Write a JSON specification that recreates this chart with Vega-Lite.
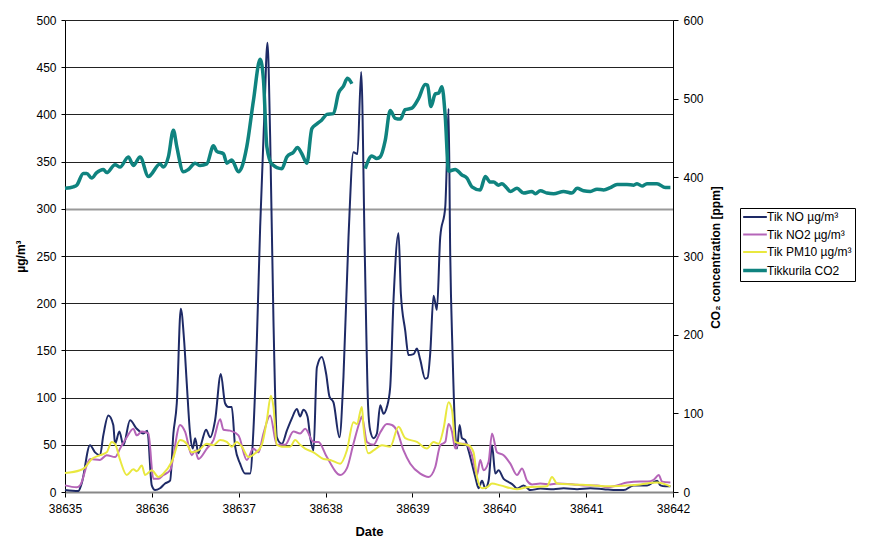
{
  "$schema": "https://vega.github.io/schema/vega-lite/v6.json",
  "width": 608,
  "height": 472,
  "autosize": {"type": "none"},
  "padding": {"left": 65, "top": 20, "right": 200, "bottom": 47},
  "background": "white",
  "config": {
    "font": "Liberation Sans",
    "view": {"stroke": null},
    "axis": {
      "labelFont": "Liberation Sans", "labelFontSize": 12, "labelColor": "#000",
      "titleFont": "Liberation Sans", "titleFontSize": 12, "titleFontWeight": "bold", "titleColor": "#000",
      "domainColor": "#000", "tickColor": "#000", "gridWidth": 1
    }
  },
  "datasets": {
    "pol": [
      {"d":38635.000,"s":"Tik NO µg/m³","v":2},{"d":38635.153,"s":"Tik NO µg/m³","v":1},{"d":38635.192,"s":"Tik NO µg/m³","v":9},{"d":38635.288,"s":"Tik NO µg/m³","v":49.5},{"d":38635.346,"s":"Tik NO µg/m³","v":42},{"d":38635.403,"s":"Tik NO µg/m³","v":39},{"d":38635.441,"s":"Tik NO µg/m³","v":60},{"d":38635.499,"s":"Tik NO µg/m³","v":81},{"d":38635.556,"s":"Tik NO µg/m³","v":71},{"d":38635.576,"s":"Tik NO µg/m³","v":51},{"d":38635.626,"s":"Tik NO µg/m³","v":64},{"d":38635.672,"s":"Tik NO µg/m³","v":49.5},{"d":38635.749,"s":"Tik NO µg/m³","v":76},{"d":38635.826,"s":"Tik NO µg/m³","v":67},{"d":38635.902,"s":"Tik NO µg/m³","v":62},{"d":38635.948,"s":"Tik NO µg/m³","v":65},{"d":38635.999,"s":"Tik NO µg/m³","v":7},{"d":38636.037,"s":"Tik NO µg/m³","v":2},{"d":38636.094,"s":"Tik NO µg/m³","v":4},{"d":38636.152,"s":"Tik NO µg/m³","v":9},{"d":38636.210,"s":"Tik NO µg/m³","v":12},{"d":38636.248,"s":"Tik NO µg/m³","v":62},{"d":38636.287,"s":"Tik NO µg/m³","v":94},{"d":38636.333,"s":"Tik NO µg/m³","v":194},{"d":38636.371,"s":"Tik NO µg/m³","v":161},{"d":38636.402,"s":"Tik NO µg/m³","v":115},{"d":38636.440,"s":"Tik NO µg/m³","v":62},{"d":38636.471,"s":"Tik NO µg/m³","v":46},{"d":38636.498,"s":"Tik NO µg/m³","v":57},{"d":38636.536,"s":"Tik NO µg/m³","v":41},{"d":38636.575,"s":"Tik NO µg/m³","v":53},{"d":38636.624,"s":"Tik NO µg/m³","v":66},{"d":38636.671,"s":"Tik NO µg/m³","v":58},{"d":38636.728,"s":"Tik NO µg/m³","v":76},{"d":38636.794,"s":"Tik NO µg/m³","v":125},{"d":38636.843,"s":"Tik NO µg/m³","v":94},{"d":38636.881,"s":"Tik NO µg/m³","v":90},{"d":38636.920,"s":"Tik NO µg/m³","v":90},{"d":38636.959,"s":"Tik NO µg/m³","v":48},{"d":38637.016,"s":"Tik NO µg/m³","v":30},{"d":38637.074,"s":"Tik NO µg/m³","v":19.5},{"d":38637.131,"s":"Tik NO µg/m³","v":19.5},{"d":38637.169,"s":"Tik NO µg/m³","v":65},{"d":38637.209,"s":"Tik NO µg/m³","v":161},{"d":38637.247,"s":"Tik NO µg/m³","v":281},{"d":38637.293,"s":"Tik NO µg/m³","v":394},{"d":38637.331,"s":"Tik NO µg/m³","v":476},{"d":38637.362,"s":"Tik NO µg/m³","v":376},{"d":38637.400,"s":"Tik NO µg/m³","v":182},{"d":38637.439,"s":"Tik NO µg/m³","v":58},{"d":38637.497,"s":"Tik NO µg/m³","v":51},{"d":38637.554,"s":"Tik NO µg/m³","v":65},{"d":38637.612,"s":"Tik NO µg/m³","v":78},{"d":38637.669,"s":"Tik NO µg/m³","v":88},{"d":38637.707,"s":"Tik NO µg/m³","v":80},{"d":38637.745,"s":"Tik NO µg/m³","v":87},{"d":38637.792,"s":"Tik NO µg/m³","v":80},{"d":38637.823,"s":"Tik NO µg/m³","v":58},{"d":38637.861,"s":"Tik NO µg/m³","v":44},{"d":38637.900,"s":"Tik NO µg/m³","v":132},{"d":38637.957,"s":"Tik NO µg/m³","v":143},{"d":38638.007,"s":"Tik NO µg/m³","v":125},{"d":38638.045,"s":"Tik NO µg/m³","v":101},{"d":38638.091,"s":"Tik NO µg/m³","v":95},{"d":38638.160,"s":"Tik NO µg/m³","v":58},{"d":38638.206,"s":"Tik NO µg/m³","v":122},{"d":38638.264,"s":"Tik NO µg/m³","v":270},{"d":38638.321,"s":"Tik NO µg/m³","v":360},{"d":38638.367,"s":"Tik NO µg/m³","v":358},{"d":38638.410,"s":"Tik NO µg/m³","v":445},{"d":38638.452,"s":"Tik NO µg/m³","v":250},{"d":38638.490,"s":"Tik NO µg/m³","v":90},{"d":38638.514,"s":"Tik NO µg/m³","v":65},{"d":38638.552,"s":"Tik NO µg/m³","v":57},{"d":38638.591,"s":"Tik NO µg/m³","v":62},{"d":38638.629,"s":"Tik NO µg/m³","v":92},{"d":38638.667,"s":"Tik NO µg/m³","v":83},{"d":38638.706,"s":"Tik NO µg/m³","v":90},{"d":38638.744,"s":"Tik NO µg/m³","v":111},{"d":38638.782,"s":"Tik NO µg/m³","v":203},{"d":38638.840,"s":"Tik NO µg/m³","v":274},{"d":38638.867,"s":"Tik NO µg/m³","v":210},{"d":38638.917,"s":"Tik NO µg/m³","v":171},{"d":38638.955,"s":"Tik NO µg/m³","v":145},{"d":38639.013,"s":"Tik NO µg/m³","v":146},{"d":38639.052,"s":"Tik NO µg/m³","v":152},{"d":38639.090,"s":"Tik NO µg/m³","v":140},{"d":38639.147,"s":"Tik NO µg/m³","v":120},{"d":38639.174,"s":"Tik NO µg/m³","v":121},{"d":38639.205,"s":"Tik NO µg/m³","v":147},{"d":38639.243,"s":"Tik NO µg/m³","v":208},{"d":38639.282,"s":"Tik NO µg/m³","v":193},{"d":38639.320,"s":"Tik NO µg/m³","v":270},{"d":38639.378,"s":"Tik NO µg/m³","v":302},{"d":38639.397,"s":"Tik NO µg/m³","v":352},{"d":38639.416,"s":"Tik NO µg/m³","v":406},{"d":38639.435,"s":"Tik NO µg/m³","v":253},{"d":38639.462,"s":"Tik NO µg/m³","v":147},{"d":38639.493,"s":"Tik NO µg/m³","v":62},{"d":38639.513,"s":"Tik NO µg/m³","v":46},{"d":38639.543,"s":"Tik NO µg/m³","v":71},{"d":38639.570,"s":"Tik NO µg/m³","v":57},{"d":38639.608,"s":"Tik NO µg/m³","v":55},{"d":38639.646,"s":"Tik NO µg/m³","v":44},{"d":38639.685,"s":"Tik NO µg/m³","v":30},{"d":38639.724,"s":"Tik NO µg/m³","v":16},{"d":38639.762,"s":"Tik NO µg/m³","v":4},{"d":38639.801,"s":"Tik NO µg/m³","v":12},{"d":38639.839,"s":"Tik NO µg/m³","v":4},{"d":38639.877,"s":"Tik NO µg/m³","v":12},{"d":38639.916,"s":"Tik NO µg/m³","v":49.5},{"d":38639.954,"s":"Tik NO µg/m³","v":19.5},{"d":38639.992,"s":"Tik NO µg/m³","v":23},{"d":38640.050,"s":"Tik NO µg/m³","v":14},{"d":38640.107,"s":"Tik NO µg/m³","v":10.6},{"d":38640.165,"s":"Tik NO µg/m³","v":7},{"d":38640.204,"s":"Tik NO µg/m³","v":3.6},{"d":38640.280,"s":"Tik NO µg/m³","v":7},{"d":38640.357,"s":"Tik NO µg/m³","v":2},{"d":38640.472,"s":"Tik NO µg/m³","v":3.6},{"d":38640.626,"s":"Tik NO µg/m³","v":3},{"d":38640.741,"s":"Tik NO µg/m³","v":4},{"d":38640.895,"s":"Tik NO µg/m³","v":3},{"d":38641.048,"s":"Tik NO µg/m³","v":4},{"d":38641.202,"s":"Tik NO µg/m³","v":3},{"d":38641.356,"s":"Tik NO µg/m³","v":2},{"d":38641.432,"s":"Tik NO µg/m³","v":2},{"d":38641.547,"s":"Tik NO µg/m³","v":7},{"d":38641.702,"s":"Tik NO µg/m³","v":7},{"d":38641.817,"s":"Tik NO µg/m³","v":12},{"d":38641.855,"s":"Tik NO µg/m³","v":7},{"d":38641.912,"s":"Tik NO µg/m³","v":6},{"d":38641.970,"s":"Tik NO µg/m³","v":6},
      {"d":38635.000,"s":"Tik NO2 µg/m³","v":7},{"d":38635.135,"s":"Tik NO2 µg/m³","v":5},{"d":38635.173,"s":"Tik NO2 µg/m³","v":7},{"d":38635.288,"s":"Tik NO2 µg/m³","v":35},{"d":38635.403,"s":"Tik NO2 µg/m³","v":34},{"d":38635.480,"s":"Tik NO2 µg/m³","v":39},{"d":38635.576,"s":"Tik NO2 µg/m³","v":37},{"d":38635.634,"s":"Tik NO2 µg/m³","v":46},{"d":38635.711,"s":"Tik NO2 µg/m³","v":58},{"d":38635.787,"s":"Tik NO2 µg/m³","v":67},{"d":38635.826,"s":"Tik NO2 µg/m³","v":60},{"d":38635.884,"s":"Tik NO2 µg/m³","v":64},{"d":38635.960,"s":"Tik NO2 µg/m³","v":62},{"d":38636.017,"s":"Tik NO2 µg/m³","v":14},{"d":38636.075,"s":"Tik NO2 µg/m³","v":14},{"d":38636.133,"s":"Tik NO2 µg/m³","v":18},{"d":38636.210,"s":"Tik NO2 µg/m³","v":23},{"d":38636.325,"s":"Tik NO2 µg/m³","v":71},{"d":38636.382,"s":"Tik NO2 µg/m³","v":64},{"d":38636.460,"s":"Tik NO2 µg/m³","v":39},{"d":38636.498,"s":"Tik NO2 µg/m³","v":44},{"d":38636.536,"s":"Tik NO2 µg/m³","v":35},{"d":38636.633,"s":"Tik NO2 µg/m³","v":46},{"d":38636.709,"s":"Tik NO2 µg/m³","v":55},{"d":38636.786,"s":"Tik NO2 µg/m³","v":77},{"d":38636.824,"s":"Tik NO2 µg/m³","v":66},{"d":38636.901,"s":"Tik NO2 µg/m³","v":65},{"d":38636.997,"s":"Tik NO2 µg/m³","v":60},{"d":38637.093,"s":"Tik NO2 µg/m³","v":34},{"d":38637.169,"s":"Tik NO2 µg/m³","v":46},{"d":38637.227,"s":"Tik NO2 µg/m³","v":42},{"d":38637.285,"s":"Tik NO2 µg/m³","v":62},{"d":38637.362,"s":"Tik NO2 µg/m³","v":81},{"d":38637.439,"s":"Tik NO2 µg/m³","v":50},{"d":38637.535,"s":"Tik NO2 µg/m³","v":50},{"d":38637.630,"s":"Tik NO2 µg/m³","v":64},{"d":38637.707,"s":"Tik NO2 µg/m³","v":62},{"d":38637.765,"s":"Tik NO2 µg/m³","v":67},{"d":38637.861,"s":"Tik NO2 µg/m³","v":53},{"d":38637.918,"s":"Tik NO2 µg/m³","v":53},{"d":38638.015,"s":"Tik NO2 µg/m³","v":37},{"d":38638.168,"s":"Tik NO2 µg/m³","v":18},{"d":38638.245,"s":"Tik NO2 µg/m³","v":25},{"d":38638.321,"s":"Tik NO2 µg/m³","v":51},{"d":38638.399,"s":"Tik NO2 µg/m³","v":76},{"d":38638.418,"s":"Tik NO2 µg/m³","v":80},{"d":38638.476,"s":"Tik NO2 µg/m³","v":53},{"d":38638.552,"s":"Tik NO2 µg/m³","v":50},{"d":38638.629,"s":"Tik NO2 µg/m³","v":63},{"d":38638.706,"s":"Tik NO2 µg/m³","v":72},{"d":38638.764,"s":"Tik NO2 µg/m³","v":71},{"d":38638.821,"s":"Tik NO2 µg/m³","v":65},{"d":38638.898,"s":"Tik NO2 µg/m³","v":44},{"d":38638.975,"s":"Tik NO2 µg/m³","v":30},{"d":38639.090,"s":"Tik NO2 µg/m³","v":19.5},{"d":38639.186,"s":"Tik NO2 µg/m³","v":16},{"d":38639.263,"s":"Tik NO2 µg/m³","v":26.5},{"d":38639.320,"s":"Tik NO2 µg/m³","v":49.5},{"d":38639.378,"s":"Tik NO2 µg/m³","v":53},{"d":38639.416,"s":"Tik NO2 µg/m³","v":72},{"d":38639.455,"s":"Tik NO2 µg/m³","v":64},{"d":38639.493,"s":"Tik NO2 µg/m³","v":46},{"d":38639.531,"s":"Tik NO2 µg/m³","v":51},{"d":38639.608,"s":"Tik NO2 µg/m³","v":51},{"d":38639.685,"s":"Tik NO2 µg/m³","v":39},{"d":38639.743,"s":"Tik NO2 µg/m³","v":18},{"d":38639.781,"s":"Tik NO2 µg/m³","v":34},{"d":38639.819,"s":"Tik NO2 µg/m³","v":23},{"d":38639.877,"s":"Tik NO2 µg/m³","v":32},{"d":38639.916,"s":"Tik NO2 µg/m³","v":62},{"d":38639.974,"s":"Tik NO2 µg/m³","v":42},{"d":38640.050,"s":"Tik NO2 µg/m³","v":39},{"d":38640.127,"s":"Tik NO2 µg/m³","v":30},{"d":38640.204,"s":"Tik NO2 µg/m³","v":18},{"d":38640.262,"s":"Tik NO2 µg/m³","v":25},{"d":38640.319,"s":"Tik NO2 µg/m³","v":12},{"d":38640.377,"s":"Tik NO2 µg/m³","v":8},{"d":38640.472,"s":"Tik NO2 µg/m³","v":9},{"d":38640.588,"s":"Tik NO2 µg/m³","v":8},{"d":38640.665,"s":"Tik NO2 µg/m³","v":9},{"d":38640.856,"s":"Tik NO2 µg/m³","v":8},{"d":38640.971,"s":"Tik NO2 µg/m³","v":7},{"d":38641.125,"s":"Tik NO2 µg/m³","v":7},{"d":38641.241,"s":"Tik NO2 µg/m³","v":5},{"d":38641.356,"s":"Tik NO2 µg/m³","v":7},{"d":38641.471,"s":"Tik NO2 µg/m³","v":10},{"d":38641.624,"s":"Tik NO2 µg/m³","v":11},{"d":38641.710,"s":"Tik NO2 µg/m³","v":11},{"d":38641.778,"s":"Tik NO2 µg/m³","v":13},{"d":38641.836,"s":"Tik NO2 µg/m³","v":18},{"d":38641.874,"s":"Tik NO2 µg/m³","v":11},{"d":38641.970,"s":"Tik NO2 µg/m³","v":10},
      {"d":38635.000,"s":"Tik PM10 µg/m³","v":20},{"d":38635.173,"s":"Tik PM10 µg/m³","v":23},{"d":38635.230,"s":"Tik PM10 µg/m³","v":26},{"d":38635.308,"s":"Tik PM10 µg/m³","v":35},{"d":38635.403,"s":"Tik PM10 µg/m³","v":39},{"d":38635.480,"s":"Tik PM10 µg/m³","v":42},{"d":38635.538,"s":"Tik PM10 µg/m³","v":53},{"d":38635.576,"s":"Tik PM10 µg/m³","v":51},{"d":38635.634,"s":"Tik PM10 µg/m³","v":34},{"d":38635.711,"s":"Tik PM10 µg/m³","v":18},{"d":38635.787,"s":"Tik PM10 µg/m³","v":24},{"d":38635.826,"s":"Tik PM10 µg/m³","v":22},{"d":38635.884,"s":"Tik PM10 µg/m³","v":28},{"d":38635.922,"s":"Tik PM10 µg/m³","v":18},{"d":38635.999,"s":"Tik PM10 µg/m³","v":23},{"d":38636.075,"s":"Tik PM10 µg/m³","v":16},{"d":38636.133,"s":"Tik PM10 µg/m³","v":19.5},{"d":38636.229,"s":"Tik PM10 µg/m³","v":32},{"d":38636.325,"s":"Tik PM10 µg/m³","v":55},{"d":38636.402,"s":"Tik PM10 µg/m³","v":51},{"d":38636.460,"s":"Tik PM10 µg/m³","v":42},{"d":38636.536,"s":"Tik PM10 µg/m³","v":44},{"d":38636.633,"s":"Tik PM10 µg/m³","v":51},{"d":38636.709,"s":"Tik PM10 µg/m³","v":49.5},{"d":38636.786,"s":"Tik PM10 µg/m³","v":55},{"d":38636.863,"s":"Tik PM10 µg/m³","v":53},{"d":38636.920,"s":"Tik PM10 µg/m³","v":48},{"d":38636.978,"s":"Tik PM10 µg/m³","v":53},{"d":38637.036,"s":"Tik PM10 µg/m³","v":48},{"d":38637.112,"s":"Tik PM10 µg/m³","v":37},{"d":38637.189,"s":"Tik PM10 µg/m³","v":41},{"d":38637.266,"s":"Tik PM10 µg/m³","v":50},{"d":38637.324,"s":"Tik PM10 µg/m³","v":76},{"d":38637.370,"s":"Tik PM10 µg/m³","v":102},{"d":38637.400,"s":"Tik PM10 µg/m³","v":90},{"d":38637.439,"s":"Tik PM10 µg/m³","v":50},{"d":38637.497,"s":"Tik PM10 µg/m³","v":48},{"d":38637.592,"s":"Tik PM10 µg/m³","v":48},{"d":38637.650,"s":"Tik PM10 µg/m³","v":55},{"d":38637.707,"s":"Tik PM10 µg/m³","v":50},{"d":38637.765,"s":"Tik PM10 µg/m³","v":46},{"d":38637.861,"s":"Tik PM10 µg/m³","v":42},{"d":38637.976,"s":"Tik PM10 µg/m³","v":35},{"d":38638.053,"s":"Tik PM10 µg/m³","v":34},{"d":38638.168,"s":"Tik PM10 µg/m³","v":30},{"d":38638.245,"s":"Tik PM10 µg/m³","v":44},{"d":38638.321,"s":"Tik PM10 µg/m³","v":74},{"d":38638.361,"s":"Tik PM10 µg/m³","v":72},{"d":38638.418,"s":"Tik PM10 µg/m³","v":90},{"d":38638.437,"s":"Tik PM10 µg/m³","v":69},{"d":38638.494,"s":"Tik PM10 µg/m³","v":41},{"d":38638.552,"s":"Tik PM10 µg/m³","v":44},{"d":38638.649,"s":"Tik PM10 µg/m³","v":49.5},{"d":38638.744,"s":"Tik PM10 µg/m³","v":48},{"d":38638.840,"s":"Tik PM10 µg/m³","v":69},{"d":38638.917,"s":"Tik PM10 µg/m³","v":57},{"d":38639.052,"s":"Tik PM10 µg/m³","v":53},{"d":38639.167,"s":"Tik PM10 µg/m³","v":46},{"d":38639.243,"s":"Tik PM10 µg/m³","v":53},{"d":38639.301,"s":"Tik PM10 µg/m³","v":51},{"d":38639.358,"s":"Tik PM10 µg/m³","v":67},{"d":38639.416,"s":"Tik PM10 µg/m³","v":95},{"d":38639.455,"s":"Tik PM10 µg/m³","v":87},{"d":38639.493,"s":"Tik PM10 µg/m³","v":53},{"d":38639.570,"s":"Tik PM10 µg/m³","v":51},{"d":38639.646,"s":"Tik PM10 µg/m³","v":49.5},{"d":38639.704,"s":"Tik PM10 µg/m³","v":42},{"d":38639.743,"s":"Tik PM10 µg/m³","v":16},{"d":38639.801,"s":"Tik PM10 µg/m³","v":4},{"d":38639.858,"s":"Tik PM10 µg/m³","v":5},{"d":38639.916,"s":"Tik PM10 µg/m³","v":9},{"d":38640.012,"s":"Tik PM10 µg/m³","v":7},{"d":38640.204,"s":"Tik PM10 µg/m³","v":3},{"d":38640.319,"s":"Tik PM10 µg/m³","v":5},{"d":38640.550,"s":"Tik PM10 µg/m³","v":6},{"d":38640.607,"s":"Tik PM10 µg/m³","v":16},{"d":38640.665,"s":"Tik PM10 µg/m³","v":9},{"d":38640.856,"s":"Tik PM10 µg/m³","v":8},{"d":38641.086,"s":"Tik PM10 µg/m³","v":7},{"d":38641.241,"s":"Tik PM10 µg/m³","v":6},{"d":38641.471,"s":"Tik PM10 µg/m³","v":7},{"d":38641.624,"s":"Tik PM10 µg/m³","v":8},{"d":38641.817,"s":"Tik PM10 µg/m³","v":10},{"d":38641.970,"s":"Tik PM10 µg/m³","v":6}
    ],
    "co2": [
      {"d":38635.000,"p":1,"s":"Tikkurila CO2","v":386},{"d":38635.096,"p":1,"s":"Tikkurila CO2","v":388},{"d":38635.135,"p":1,"s":"Tikkurila CO2","v":390},{"d":38635.211,"p":1,"s":"Tikkurila CO2","v":405},{"d":38635.250,"p":1,"s":"Tikkurila CO2","v":405},{"d":38635.307,"p":1,"s":"Tikkurila CO2","v":399},{"d":38635.365,"p":1,"s":"Tikkurila CO2","v":406},{"d":38635.441,"p":1,"s":"Tikkurila CO2","v":410},{"d":38635.480,"p":1,"s":"Tikkurila CO2","v":406},{"d":38635.576,"p":1,"s":"Tikkurila CO2","v":416},{"d":38635.634,"p":1,"s":"Tikkurila CO2","v":413},{"d":38635.729,"p":1,"s":"Tikkurila CO2","v":426},{"d":38635.787,"p":1,"s":"Tikkurila CO2","v":415},{"d":38635.864,"p":1,"s":"Tikkurila CO2","v":426},{"d":38635.960,"p":1,"s":"Tikkurila CO2","v":401},{"d":38636.094,"p":1,"s":"Tikkurila CO2","v":417},{"d":38636.133,"p":1,"s":"Tikkurila CO2","v":413},{"d":38636.190,"p":1,"s":"Tikkurila CO2","v":426},{"d":38636.248,"p":1,"s":"Tikkurila CO2","v":460},{"d":38636.287,"p":1,"s":"Tikkurila CO2","v":439},{"d":38636.363,"p":1,"s":"Tikkurila CO2","v":407},{"d":38636.420,"p":1,"s":"Tikkurila CO2","v":410},{"d":38636.498,"p":1,"s":"Tikkurila CO2","v":418},{"d":38636.555,"p":1,"s":"Tikkurila CO2","v":415},{"d":38636.633,"p":1,"s":"Tikkurila CO2","v":417},{"d":38636.709,"p":1,"s":"Tikkurila CO2","v":440},{"d":38636.748,"p":1,"s":"Tikkurila CO2","v":433},{"d":38636.824,"p":1,"s":"Tikkurila CO2","v":430},{"d":38636.863,"p":1,"s":"Tikkurila CO2","v":418},{"d":38636.920,"p":1,"s":"Tikkurila CO2","v":422},{"d":38636.997,"p":1,"s":"Tikkurila CO2","v":407},{"d":38637.036,"p":1,"s":"Tikkurila CO2","v":413},{"d":38637.093,"p":1,"s":"Tikkurila CO2","v":439},{"d":38637.170,"p":1,"s":"Tikkurila CO2","v":498},{"d":38637.247,"p":1,"s":"Tikkurila CO2","v":550},{"d":38637.285,"p":1,"s":"Tikkurila CO2","v":524},{"d":38637.324,"p":1,"s":"Tikkurila CO2","v":439},{"d":38637.381,"p":1,"s":"Tikkurila CO2","v":417},{"d":38637.497,"p":1,"s":"Tikkurila CO2","v":411},{"d":38637.554,"p":1,"s":"Tikkurila CO2","v":426},{"d":38637.630,"p":1,"s":"Tikkurila CO2","v":432},{"d":38637.676,"p":1,"s":"Tikkurila CO2","v":438},{"d":38637.727,"p":1,"s":"Tikkurila CO2","v":430},{"d":38637.785,"p":1,"s":"Tikkurila CO2","v":418},{"d":38637.842,"p":1,"s":"Tikkurila CO2","v":462},{"d":38637.900,"p":1,"s":"Tikkurila CO2","v":468},{"d":38637.957,"p":1,"s":"Tikkurila CO2","v":473},{"d":38638.015,"p":1,"s":"Tikkurila CO2","v":480},{"d":38638.091,"p":1,"s":"Tikkurila CO2","v":481},{"d":38638.149,"p":1,"s":"Tikkurila CO2","v":507},{"d":38638.206,"p":1,"s":"Tikkurila CO2","v":516},{"d":38638.252,"p":1,"s":"Tikkurila CO2","v":526},{"d":38638.303,"p":1,"s":"Tikkurila CO2","v":519},
      {"d":38638.456,"p":2,"s":"Tikkurila CO2","v":411},{"d":38638.533,"p":2,"s":"Tikkurila CO2","v":427},{"d":38638.590,"p":2,"s":"Tikkurila CO2","v":424},{"d":38638.629,"p":2,"s":"Tikkurila CO2","v":426},{"d":38638.687,"p":2,"s":"Tikkurila CO2","v":447},{"d":38638.744,"p":2,"s":"Tikkurila CO2","v":485},{"d":38638.802,"p":2,"s":"Tikkurila CO2","v":475},{"d":38638.860,"p":2,"s":"Tikkurila CO2","v":474},{"d":38638.917,"p":2,"s":"Tikkurila CO2","v":486},{"d":38638.994,"p":2,"s":"Tikkurila CO2","v":488},{"d":38639.070,"p":2,"s":"Tikkurila CO2","v":500},{"d":38639.147,"p":2,"s":"Tikkurila CO2","v":518},{"d":38639.174,"p":2,"s":"Tikkurila CO2","v":517},{"d":38639.213,"p":2,"s":"Tikkurila CO2","v":490},{"d":38639.263,"p":2,"s":"Tikkurila CO2","v":506},{"d":38639.300,"p":2,"s":"Tikkurila CO2","v":507},{"d":38639.340,"p":2,"s":"Tikkurila CO2","v":515},{"d":38639.378,"p":2,"s":"Tikkurila CO2","v":477},{"d":38639.416,"p":2,"s":"Tikkurila CO2","v":408},{"d":38639.493,"p":2,"s":"Tikkurila CO2","v":410},{"d":38639.570,"p":2,"s":"Tikkurila CO2","v":403},{"d":38639.628,"p":2,"s":"Tikkurila CO2","v":399},{"d":38639.685,"p":2,"s":"Tikkurila CO2","v":388},{"d":38639.780,"p":2,"s":"Tikkurila CO2","v":384},{"d":38639.839,"p":2,"s":"Tikkurila CO2","v":401},{"d":38639.896,"p":2,"s":"Tikkurila CO2","v":394},{"d":38639.935,"p":2,"s":"Tikkurila CO2","v":394},{"d":38639.992,"p":2,"s":"Tikkurila CO2","v":390},{"d":38640.030,"p":2,"s":"Tikkurila CO2","v":392},{"d":38640.089,"p":2,"s":"Tikkurila CO2","v":386},{"d":38640.127,"p":2,"s":"Tikkurila CO2","v":382},{"d":38640.204,"p":2,"s":"Tikkurila CO2","v":386},{"d":38640.280,"p":2,"s":"Tikkurila CO2","v":380},{"d":38640.377,"p":2,"s":"Tikkurila CO2","v":382},{"d":38640.415,"p":2,"s":"Tikkurila CO2","v":379},{"d":38640.472,"p":2,"s":"Tikkurila CO2","v":383},{"d":38640.550,"p":2,"s":"Tikkurila CO2","v":380},{"d":38640.626,"p":2,"s":"Tikkurila CO2","v":379},{"d":38640.740,"p":2,"s":"Tikkurila CO2","v":382},{"d":38640.837,"p":2,"s":"Tikkurila CO2","v":380},{"d":38640.895,"p":2,"s":"Tikkurila CO2","v":386},{"d":38640.970,"p":2,"s":"Tikkurila CO2","v":383},{"d":38641.048,"p":2,"s":"Tikkurila CO2","v":382},{"d":38641.125,"p":2,"s":"Tikkurila CO2","v":385},{"d":38641.202,"p":2,"s":"Tikkurila CO2","v":384},{"d":38641.279,"p":2,"s":"Tikkurila CO2","v":387},{"d":38641.356,"p":2,"s":"Tikkurila CO2","v":391},{"d":38641.470,"p":2,"s":"Tikkurila CO2","v":391},{"d":38641.547,"p":2,"s":"Tikkurila CO2","v":390},{"d":38641.586,"p":2,"s":"Tikkurila CO2","v":392},{"d":38641.644,"p":2,"s":"Tikkurila CO2","v":389},{"d":38641.700,"p":2,"s":"Tikkurila CO2","v":392},{"d":38641.816,"p":2,"s":"Tikkurila CO2","v":392},{"d":38641.912,"p":2,"s":"Tikkurila CO2","v":387},{"d":38641.970,"p":2,"s":"Tikkurila CO2","v":387}
    ]
  },
  "layer": [
    {
      "data": {"name": "pol"},
      "mark": {"type": "line", "interpolate": "monotone", "strokeWidth": 2},
      "encoding": {
        "x": {"field": "d", "type": "quantitative",
          "scale": {"domain": [38635, 38642], "nice": false, "zero": false},
          "axis": {"values": [38635, 38636, 38637, 38638, 38639, 38640, 38641, 38642], "format": "d", "title": "Date", "grid": false,
            "domainColor": "#888", "domainWidth": 2, "tickSize": 5, "labelPadding": 6, "titlePadding": 11, "titleFontSize": 13, "labelFlush": false}},
        "y": {"field": "v", "type": "quantitative",
          "scale": {"domain": [0, 500], "nice": false},
          "axis": {"orient": "left", "values": [0, 50, 100, 150, 200, 250, 300, 350, 400, 450, 500], "title": "µg/m³", "grid": true,
            "gridColor": {"condition": {"test": "datum.value === 300", "value": "#999"}, "value": "#222"},
            "gridWidth": {"condition": {"test": "datum.value === 300", "value": 2}, "value": 1},
            "tickSize": 4, "labelPadding": 5, "titleX": -45, "titleY": 236, "titleBaseline": "middle", "titleAngle": -90}},
        "color": {"field": "s", "type": "nominal",
          "scale": {"domain": ["Tik NO µg/m³", "Tik NO2 µg/m³", "Tik PM10 µg/m³", "Tikkurila CO2"], "range": ["#1E2A66", "#B565B8", "#E9E83F", "#0F837F"]},
          "legend": {"title": null, "orient": "none", "legendX": 675, "legendY": 188,
            "strokeColor": "#000", "fillColor": "#fff", "padding": 3, "cornerRadius": 0,
            "labelFont": "Liberation Sans", "labelFontSize": 12, "labelColor": "#000", "labelLimit": 200,
            "symbolType": "stroke", "symbolSize": 560, "symbolStrokeWidth": 2,
            "rowPadding": 5.5, "symbolOffset": 6, "labelOffset": 6,
            "encode": {"symbols": {"update": {"size": {"value": 560}, "strokeWidth": {"signal": "datum.value == 'Tikkurila CO2' ? 3.5 : 2"}}}}}}
      }
    },
    {
      "data": {"name": "co2"},
      "mark": {"type": "line", "interpolate": "monotone", "strokeWidth": 3.5},
      "encoding": {
        "x": {"field": "d", "type": "quantitative",
          "scale": {"domain": [38635, 38642], "nice": false, "zero": false},
          "axis": {"values": [38635, 38636, 38637, 38638, 38639, 38640, 38641, 38642], "format": "d", "title": "Date", "grid": false,
            "domainColor": "#888", "domainWidth": 2, "tickSize": 5, "labelPadding": 6, "titlePadding": 11, "titleFontSize": 13, "labelFlush": false}},
        "y": {"field": "v", "type": "quantitative",
          "scale": {"domain": [0, 600], "nice": false},
          "axis": {"orient": "right", "values": [0, 100, 200, 300, 400, 500, 600], "title": "CO₂ concentration [ppm]", "grid": false,
            "tickSize": 5, "labelPadding": 5, "titleX": 42, "titleY": 237, "titleBaseline": "middle", "titleAngle": -90}},
        "color": {"field": "s", "type": "nominal",
          "scale": {"domain": ["Tik NO µg/m³", "Tik NO2 µg/m³", "Tik PM10 µg/m³", "Tikkurila CO2"], "range": ["#1E2A66", "#B565B8", "#E9E83F", "#0F837F"]},
          "legend": {"title": null, "orient": "none", "legendX": 675, "legendY": 188,
            "strokeColor": "#000", "fillColor": "#fff", "padding": 3, "cornerRadius": 0,
            "labelFont": "Liberation Sans", "labelFontSize": 12, "labelColor": "#000", "labelLimit": 200,
            "symbolType": "stroke", "symbolSize": 560, "symbolStrokeWidth": 2,
            "rowPadding": 5.5, "symbolOffset": 6, "labelOffset": 6,
            "encode": {"symbols": {"update": {"size": {"value": 560}, "strokeWidth": {"signal": "datum.value == 'Tikkurila CO2' ? 3.5 : 2"}}}}}},
        "detail": {"field": "p", "type": "nominal"}
      }
    }
  ],
  "resolve": {"scale": {"y": "independent"}}
}
